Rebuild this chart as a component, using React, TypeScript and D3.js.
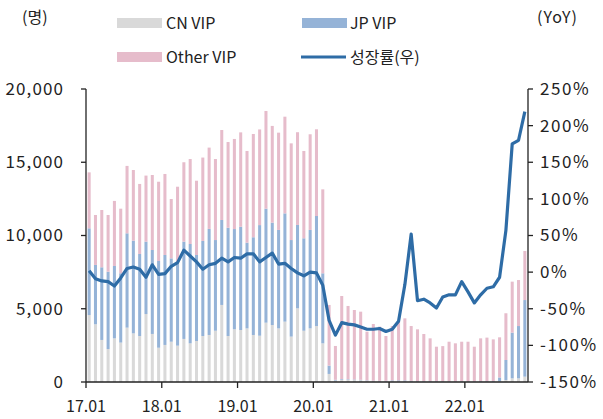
import React from "react";
import * as d3 from "d3";

const months: string[] = [];
for (let y = 17; y <= 22; y++) for (let m = 1; m <= 12; m++) months.push(`${y}.${String(m).padStart(2, "0")}`);
const categories = months.slice(0, 70);

const cnVip = [4570,3940,2870,2250,2980,2690,3710,3320,3140,4640,3280,2340,2530,2750,2480,2940,2640,2800,3140,3210,3500,5260,3140,3600,3550,3660,3210,3160,4050,3890,3660,4120,3100,5030,3500,3660,3820,2640,550,100,150,150,130,120,80,60,50,50,50,50,50,40,30,30,30,30,30,30,30,30,30,30,30,30,30,60,137,250,250,364];
const jpVip = [5920,4050,4960,5280,4940,4730,6440,6330,5600,4940,5730,5920,6140,5690,5620,6640,6780,5870,6490,7240,6190,5800,7390,6840,7050,5850,6670,7550,7780,6990,6720,7390,6590,5690,6310,6720,7510,4780,570,50,50,40,40,30,30,30,30,30,60,60,60,40,30,30,30,30,20,20,20,20,20,20,30,30,40,250,1365,3120,3570,5230];
const otherVip = [3820,3410,3910,3870,4440,4410,4600,4820,4780,4510,5120,5410,5530,4050,5230,5420,5800,5070,5690,5550,5530,6140,5850,6150,6440,6260,7050,6530,6670,6600,6640,6600,6600,6330,5960,6530,5920,5730,4140,2310,5670,5000,4745,4650,3326,3870,3700,3060,3710,4010,4235,3740,3535,3216,2920,2350,2400,2700,2590,2700,2700,2360,2920,2970,2840,2740,3190,3480,3140,3350];
const growth = [2,-9,-12,-13,-19,-8,5,7,4,-7,10,-3,-2,8,13,30,22,14,4,10,12,19,14,20,19,25,25,14,20,26,11,12,5,-1,-5,0,-1,-18,-66,-86,-69,-71,-72,-75,-78,-78,-77,-81,-78,-67,-17,52,-39,-37,-42,-49,-34,-31,-31,-13,-27,-42,-31,-22,-20,-7,57,175,180,219];

const leftTicks = [0, 5000, 10000, 15000, 20000];
const rightTicks = [-150, -100, -50, 0, 50, 100, 150, 200, 250];
const xTickLabels = ["17.01", "18.01", "19.01", "20.01", "21.01", "22.01"];

const seriesNames = ["CN VIP", "JP VIP", "Other VIP"];
const colors = ["#d9d9d9", "#95b3d7", "#e6bccb"];
const lineColor = "#2e6ca6";
const FONT = "'Noto Sans CJK KR', 'Noto Sans', sans-serif";

export default function App() {
  const W = 603, H = 419;
  const left = 86, right = 528, top = 89, bottom = 382;
  const x = d3.scaleBand<string>().domain(categories).range([left, right]).padding(0);
  const bw = x.bandwidth();
  const barW = bw * 0.48;
  const yL = d3.scaleLinear().domain([0, 20000]).range([bottom, top]);
  const yR = d3.scaleLinear().domain([-150, 250]).range([bottom, top]);

  const table = categories.map((c, i) => ({ c, cn: cnVip[i], jp: jpVip[i], ot: otherVip[i] }));
  const stack = d3.stack<any>().keys(["cn", "jp", "ot"])(table);

  const line = d3.line<number>()
    .x((_, i) => (x(categories[i]) as number) + bw / 2)
    .y((d) => yR(d));

  const fmt = d3.format(",");
  const fs = 16;

  return (
    <svg width={W} height={H} style={{ position: "absolute", left: 0, top: 0, background: "#fff" }} fontFamily={FONT}>
      {stack.map((s, si) => (
        <g key={si} fill={colors[si]}>
          {s.map((d, i) => (
            <rect key={i} x={(x(categories[i]) as number) + (bw - barW) / 2} width={barW}
              y={yL(d[1])} height={Math.max(0, yL(d[0]) - yL(d[1]))} />
          ))}
        </g>
      ))}
      <path d={line(growth) || ""} fill="none" stroke={lineColor} strokeWidth={3.2} strokeLinejoin="round" />

      <g stroke="#222" strokeWidth={1.3}>
        <line x1={left} x2={left} y1={top} y2={bottom} />
        <line x1={right} x2={right} y1={top} y2={bottom} />
        <line x1={left} x2={right} y1={bottom} y2={bottom} />
        {leftTicks.map((t) => <line key={t} x1={left - 5} x2={left} y1={yL(t)} y2={yL(t)} />)}
        {rightTicks.map((t) => <line key={t} x1={right} x2={right + 5} y1={yR(t)} y2={yR(t)} />)}
        {xTickLabels.map((l) => <line key={l} x1={x(l) as number} x2={x(l) as number} y1={bottom} y2={bottom + 6} />)}
      </g>
      <g fontSize={17} fill="#222">
        {leftTicks.map((t) => (
          <text key={t} x={64} y={yL(t)} dy="0.35em" textAnchor="end" letterSpacing={1.1}>{fmt(t)}</text>
        ))}
        {rightTicks.map((t) => (
          <text key={t} x={540} y={yR(t)} dy="0.35em" textAnchor="start" letterSpacing={1.6}>{t}%</text>
        ))}
      </g>
      <g fontSize={fs} fill="#222">
        {xTickLabels.map((l) => (
          <text key={l} x={x(l) as number} y={412} textAnchor="middle">{l}</text>
        ))}
        <text x={22} y={23}>(명)</text>
        <text x={537} y={23} letterSpacing={1}>(YoY)</text>
      </g>
      <g fontSize={fs} fill="#222">
        <rect x={117} y={18} width={45} height={10} fill={colors[0]} />
        <text x={166} y={29}>{seriesNames[0]}</text>
        <rect x={302} y={18} width={45} height={10} fill={colors[1]} />
        <text x={350} y={29}>{seriesNames[1]}</text>
        <rect x={117} y={52} width={45} height={10} fill={colors[2]} />
        <text x={166} y={63}>{seriesNames[2]}</text>
        <line x1={301} x2={346} y1={57} y2={57} stroke={lineColor} strokeWidth={3} />
        <text x={350} y={63}>성장률(우)</text>
      </g>
    </svg>
  );
}
